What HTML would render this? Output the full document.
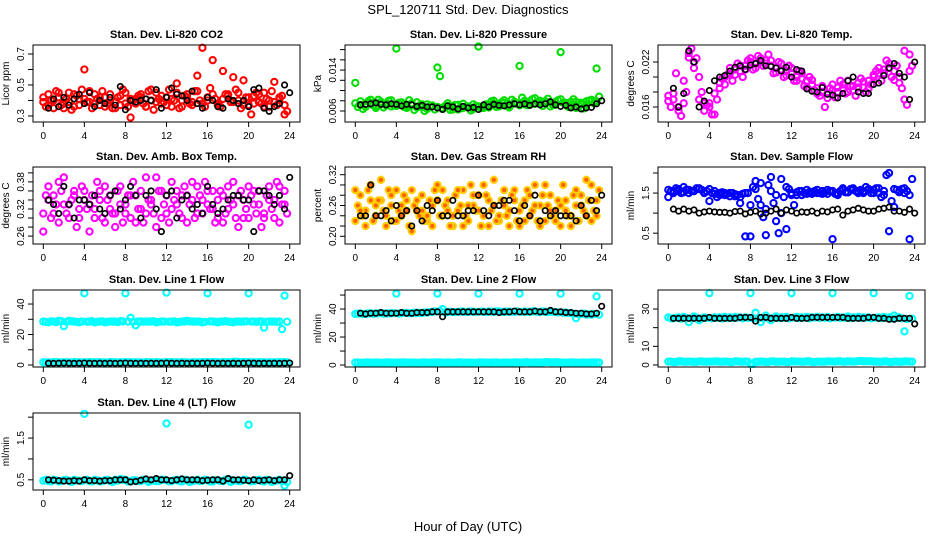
<!DOCTYPE html>
<html><head><meta charset="utf-8"><style>
html,body{margin:0;padding:0;background:#fff;}
svg{display:block;font-family:"Liberation Sans",Arial,sans-serif;}
</style></head><body>
<svg id="chart" width="936" height="540" viewBox="0 0 936 540">
<text x="468" y="14" text-anchor="middle" font-size="13">SPL_120711  Std. Dev. Diagnostics</text>
<text x="468" y="531" text-anchor="middle" font-size="13">Hour of Day (UTC)</text>
</svg>
<script>
const HA=[0,0.5,1,1.5,2,2.5,3,3.5,4,4.5,5,5.5,6,6.5,7,7.5,8,8.5,9,9.5,10,10.5,11,11.5,12,12.5,13,13.5,14,14.5,15,15.5,16,16.5,17,17.5,18,18.5,19,19.5,20,20.5,21,21.5,22,22.5,23,23.5];
const HB=[0.25,0.75,1.25,1.75,2.25,2.75,3.25,3.75,4.25,4.75,5.25,5.75,6.25,6.75,7.25,7.75,8.25,8.75,9.25,9.75,10.25,10.75,11.25,11.75,12.25,12.75,13.25,13.75,14.25,14.75,15.25,15.75,16.25,16.75,17.25,17.75,18.25,18.75,19.25,19.75,20.25,20.75,21.25,21.75,22.25,22.75,23.25,23.75];
const HK=[0.5,1,1.5,2,2.5,3,3.5,4,4.5,5,5.5,6,6.5,7,7.5,8,8.5,9,9.5,10,10.5,11,11.5,12,12.5,13,13.5,14,14.5,15,15.5,16,16.5,17,17.5,18,18.5,19,19.5,20,20.5,21,21.5,22,22.5,23,23.5,24];
const X_TICKS=[0,4,8,12,16,20,24];

const co2A=[0.39,0.44,0.35,0.42,0.38,0.45,0.36,0.41,0.60,0.39,0.44,0.37,0.42,0.40,0.35,0.43,0.38,0.29,0.41,0.44,0.36,0.40,0.45,0.38,0.42,0.36,0.51,0.40,0.44,0.37,0.56,0.74,0.42,0.66,0.38,0.59,0.44,0.55,0.40,0.53,0.37,0.43,0.39,0.45,0.36,0.52,0.41,0.31];
const co2B=[0.36,0.40,0.46,0.37,0.41,0.34,0.43,0.47,0.39,0.35,0.41,0.46,0.38,0.35,0.42,0.47,0.36,0.40,0.43,0.38,0.46,0.34,0.41,0.39,0.47,0.40,0.35,0.43,0.38,0.46,0.40,0.36,0.48,0.41,0.36,0.44,0.39,0.47,0.35,0.42,0.31,0.45,0.38,0.41,0.46,0.37,0.43,0.33];
const co2C=[0.42,0.37,0.40,0.45,0.35,0.39,0.44,0.37,0.41,0.46,0.38,0.42,0.36,0.44,0.39,0.37,0.45,0.41,0.38,0.42,0.36,0.47,0.39,0.43,0.37,0.41,0.45,0.36,0.42,0.39,0.46,0.38,0.40,0.44,0.37,0.41,0.43,0.39,0.45,0.37,0.42,0.38,0.44,0.36,0.40,0.39,0.42,0.37];
const co2K=[0.35,0.41,0.36,0.42,0.37,0.41,0.44,0.38,0.45,0.36,0.40,0.38,0.42,0.37,0.49,0.34,0.40,0.39,0.40,0.41,0.40,0.47,0.35,0.42,0.48,0.44,0.43,0.40,0.46,0.38,0.35,0.42,0.40,0.36,0.35,0.41,0.40,0.38,0.40,0.36,0.47,0.48,0.35,0.33,0.36,0.38,0.50,0.45];

const prA=[0.0115,0.0072,0.0068,0.0076,0.0070,0.0078,0.0074,0.0069,0.0182,0.0077,0.0070,0.0075,0.0067,0.0073,0.0064,0.0071,0.0145,0.0066,0.0070,0.0063,0.0072,0.0066,0.0069,0.0064,0.0186,0.0070,0.0067,0.0074,0.0069,0.0076,0.0071,0.0078,0.0148,0.0073,0.0079,0.0074,0.0080,0.0075,0.0077,0.0072,0.0175,0.0076,0.0070,0.0078,0.0073,0.0079,0.0082,0.0143];
const prB=[0.0068,0.0064,0.0079,0.0071,0.0082,0.0067,0.0080,0.0072,0.0076,0.0068,0.0081,0.0062,0.0071,0.0060,0.0069,0.0063,0.0128,0.0070,0.0062,0.0072,0.0065,0.0068,0.0061,0.0070,0.0066,0.0073,0.0079,0.0068,0.0077,0.0070,0.0082,0.0074,0.0086,0.0071,0.0083,0.0078,0.0070,0.0084,0.0072,0.0081,0.0076,0.0068,0.0083,0.0071,0.0065,0.0080,0.0075,0.0088];
const prC=[0.0075,0.0079,0.0073,0.0082,0.0066,0.0074,0.0071,0.0081,0.0070,0.0074,0.0066,0.0072,0.0077,0.0068,0.0073,0.0070,0.0068,0.0064,0.0075,0.0068,0.0063,0.0074,0.0067,0.0073,0.0069,0.0066,0.0072,0.0080,0.0073,0.0081,0.0067,0.0075,0.0071,0.0080,0.0072,0.0085,0.0076,0.0079,0.0069,0.0078,0.0083,0.0074,0.0078,0.0066,0.0076,0.0072,0.0080,0.0079];
const prK=[0.0072,0.0073,0.0074,0.0076,0.0073,0.0072,0.0074,0.0073,0.0070,0.0073,0.0072,0.0069,0.0071,0.0068,0.0068,0.0066,0.0063,0.0070,0.0068,0.0064,0.0069,0.0066,0.0067,0.0063,0.0072,0.0068,0.0073,0.0071,0.0070,0.0072,0.0074,0.0072,0.0074,0.0071,0.0074,0.0072,0.0074,0.0078,0.0072,0.0069,0.0071,0.0066,0.0068,0.0064,0.0066,0.0067,0.0074,0.0080];

const ltA=[0.0175,0.0170,0.0155,0.0165,0.0232,0.0220,0.0200,0.0165,0.0160,0.0150,0.0185,0.0190,0.0205,0.0210,0.0208,0.0215,0.0220,0.0218,0.0225,0.0222,0.0215,0.0212,0.0210,0.0208,0.0205,0.0200,0.0198,0.0195,0.0190,0.0185,0.0180,0.0178,0.0182,0.0186,0.0190,0.0180,0.0188,0.0192,0.0186,0.0195,0.0200,0.0205,0.0210,0.0212,0.0208,0.0200,0.0170,0.0230];
const ltB=[0.0160,0.0205,0.0148,0.0180,0.0238,0.0225,0.0180,0.0162,0.0150,0.0170,0.0198,0.0203,0.0195,0.0218,0.0200,0.0222,0.0210,0.0228,0.0215,0.0230,0.0205,0.0220,0.0200,0.0215,0.0195,0.0208,0.0188,0.0200,0.0182,0.0175,0.0160,0.0185,0.0173,0.0195,0.0178,0.0188,0.0175,0.0198,0.0180,0.0190,0.0208,0.0195,0.0222,0.0200,0.0215,0.0185,0.0163,0.0215];
const ltC=[0.0168,0.0178,0.0160,0.0195,0.0226,0.0212,0.0170,0.0155,0.0165,0.0178,0.0192,0.0200,0.0212,0.0203,0.0215,0.0210,0.0225,0.0212,0.0220,0.0218,0.0222,0.0206,0.0218,0.0202,0.0212,0.0195,0.0205,0.0186,0.0196,0.0178,0.0188,0.0172,0.0190,0.0180,0.0185,0.0195,0.0182,0.0186,0.0194,0.0185,0.0203,0.0212,0.0205,0.0218,0.0196,0.0192,0.0235,0.0208];
const ltK=[0.0185,0.0160,0.0178,0.0235,0.0220,0.0160,0.0168,0.0182,0.0195,0.0200,0.0202,0.0208,0.0213,0.0215,0.0210,0.0216,0.0218,0.0222,0.0215,0.0214,0.0212,0.0208,0.0213,0.0200,0.0210,0.0208,0.0184,0.0181,0.0180,0.0186,0.0177,0.0176,0.0172,0.0178,0.0195,0.0200,0.0180,0.0178,0.0178,0.0190,0.0192,0.0202,0.0212,0.0218,0.0205,0.0200,0.0170,0.0220];

const abA=[0.31,0.37,0.35,0.29,0.39,0.33,0.36,0.30,0.34,0.27,0.32,0.36,0.29,0.35,0.31,0.37,0.33,0.30,0.35,0.32,0.39,0.34,0.28,0.36,0.31,0.38,0.33,0.35,0.29,0.34,0.37,0.31,0.33,0.36,0.30,0.35,0.32,0.38,0.28,0.34,0.30,0.36,0.33,0.31,0.37,0.34,0.29,0.36];
const abB=[0.35,0.30,0.33,0.36,0.31,0.34,0.28,0.37,0.32,0.35,0.38,0.30,0.34,0.31,0.36,0.29,0.35,0.38,0.32,0.29,0.34,0.31,0.36,0.33,0.29,0.34,0.31,0.37,0.33,0.30,0.35,0.38,0.32,0.29,0.36,0.31,0.34,0.30,0.36,0.32,0.35,0.31,0.28,0.35,0.32,0.38,0.33,0.31];
const abC=[0.27,0.34,0.31,0.38,0.33,0.30,0.35,0.32,0.36,0.33,0.30,0.34,0.37,0.32,0.28,0.33,0.31,0.35,0.29,0.36,0.31,0.33,0.39,0.30,0.35,0.32,0.36,0.30,0.35,0.38,0.31,0.34,0.36,0.32,0.34,0.29,0.37,0.33,0.35,0.30,0.37,0.33,0.36,0.30,0.34,0.30,0.37,0.33];
const abK=[0.34,0.33,0.31,0.37,0.33,0.30,0.34,0.34,0.33,0.35,0.32,0.31,0.35,0.36,0.32,0.34,0.37,0.35,0.30,0.35,0.36,0.32,0.27,0.35,0.36,0.30,0.34,0.35,0.32,0.33,0.31,0.37,0.33,0.31,0.32,0.34,0.35,0.35,0.34,0.34,0.27,0.36,0.36,0.35,0.33,0.35,0.32,0.39];

const rhA=[0.23,0.28,0.25,0.30,0.24,0.27,0.22,0.26,0.29,0.24,0.27,0.21,0.25,0.28,0.23,0.26,0.30,0.24,0.27,0.22,0.25,0.29,0.23,0.26,0.28,0.24,0.27,0.31,0.23,0.26,0.25,0.29,0.22,0.27,0.24,0.30,0.26,0.23,0.28,0.25,0.22,0.27,0.24,0.29,0.26,0.31,0.23,0.27];
const rhB=[0.26,0.24,0.29,0.23,0.27,0.25,0.29,0.23,0.25,0.28,0.22,0.26,0.24,0.23,0.27,0.29,0.24,0.26,0.22,0.28,0.26,0.24,0.30,0.25,0.22,0.28,0.25,0.23,0.27,0.24,0.28,0.23,0.26,0.29,0.25,0.23,0.28,0.26,0.24,0.27,0.30,0.24,0.28,0.23,0.25,0.27,0.25,0.29];
const rhC=[0.29,0.25,0.22,0.27,0.26,0.31,0.24,0.28,0.23,0.26,0.25,0.29,0.27,0.25,0.24,0.22,0.27,0.29,0.25,0.24,0.29,0.22,0.26,0.28,0.25,0.30,0.22,0.26,0.24,0.29,0.22,0.27,0.25,0.23,0.28,0.26,0.22,0.30,0.25,0.23,0.26,0.25,0.22,0.26,0.28,0.24,0.30,0.24];
const rhK=[0.24,0.24,0.30,0.24,0.24,0.25,0.23,0.26,0.24,0.25,0.22,0.25,0.23,0.26,0.25,0.27,0.24,0.24,0.27,0.24,0.24,0.25,0.25,0.28,0.25,0.24,0.26,0.26,0.27,0.27,0.25,0.23,0.26,0.24,0.28,0.23,0.25,0.24,0.25,0.24,0.24,0.24,0.23,0.26,0.24,0.27,0.25,0.28];

const sfA=[1.40,1.55,1.60,1.52,1.58,1.55,1.62,1.50,1.30,1.48,1.45,1.50,1.42,1.47,1.40,0.42,0.42,1.80,1.20,0.45,1.90,0.80,1.85,0.60,1.50,1.45,1.55,1.48,1.52,1.50,1.55,1.48,0.35,1.45,1.58,1.52,1.62,1.55,1.50,1.60,1.58,1.50,1.45,0.55,1.60,1.55,1.50,0.35];
const sfB=[1.55,1.62,1.50,1.58,1.55,1.62,1.58,1.55,1.50,1.40,1.52,1.48,1.50,1.45,1.48,1.50,1.65,1.35,0.90,1.70,1.25,0.50,1.40,1.60,1.20,1.55,1.50,1.53,1.55,1.50,1.52,1.55,1.48,1.55,1.52,1.60,1.55,1.58,1.65,1.50,1.62,1.40,1.95,1.30,1.58,1.60,1.55,1.85];
const sfC=[1.58,1.50,1.55,1.65,1.50,1.55,1.60,1.52,1.60,1.55,1.50,1.45,1.50,1.42,1.25,1.50,1.20,1.60,1.75,1.10,1.55,1.45,1.00,1.65,1.45,1.52,1.45,1.58,1.48,1.58,1.48,1.58,1.55,1.50,1.62,1.52,1.58,1.50,1.55,1.58,1.50,1.62,1.55,2.00,1.15,1.52,1.62,1.45];
const sfK=[1.10,1.05,1.10,1.05,1.08,1.00,1.03,1.05,1.03,1.02,1.02,1.00,1.04,1.05,0.98,1.02,1.05,0.98,1.00,1.05,1.10,1.00,1.08,1.05,1.00,1.03,1.02,1.05,1.00,1.05,1.03,1.08,1.10,0.95,1.05,1.08,1.12,1.08,1.05,1.05,1.10,1.12,1.15,1.05,1.05,1.02,1.10,1.00];

const l1Hi=[28.5,28,28.5,29,25.5,29,28.5,28,47,28.5,28,28.5,28,28.5,28.5,28.8,47,31,26,28.5,28.5,28.5,28,28.5,47.5,28.5,28,28.5,29,28.5,28.5,28,47,28.5,28,28.5,28.5,28,28.5,28.5,47,28.5,28.5,24.5,28.5,28.5,28.5,45.5];
const l1Hi2=[28.3,28.6,28.2,28.7,28.4,28.6,28.3,28.5,28.4,28.7,28.3,28.6,28.4,28.5,28.2,28.6,28.5,28.3,28.6,28.4,28.5,28.7,28.3,28.5,28.4,28.6,28.3,28.5,28.6,28.4,28.5,28.3,28.6,28.4,28.5,28.7,28.3,28.5,28.4,28.6,28.5,28.3,28.6,28.4,28.5,28.3,23.5,28.4];
const l1Lo=[1.8,1.6,1.9,1.7,1.8,1.6,1.9,1.7,1.8,1.9,1.7,1.8,1.6,1.9,1.7,1.8,1.9,1.7,1.8,1.6,1.9,1.7,1.8,1.6,1.9,1.8,1.7,1.9,1.6,1.8,1.7,1.9,1.8,2.0,1.7,1.9,1.8,2.1,1.9,2.0,1.8,1.7,1.9,1.6,1.8,1.7,1.9,1.8];
const l1K=[1.2,1.1,1.2,1.3,1.2,1.1,1.2,1.3,1.2,1.1,1.2,1.1,1.2,1.1,1.2,1.3,1.2,1.1,1.2,1.1,1.2,1.1,1.2,1.3,1.2,1.1,1.2,1.1,1.2,1.1,1.2,1.3,1.2,1.1,1.2,1.1,1.2,1.1,1.2,1.3,1.2,1.1,1.2,1.1,1.2,1.1,1.2,1.3];

const l2Hi=[36.5,36.8,36.5,37,36.8,37,36.8,37,51,37,37.2,37,37.3,37.1,37.5,38,51,40,38,37.8,38,38.2,38,38.1,51,38,38.2,38,38.3,38,38.1,38,51,38.2,38,38.4,38,38.1,38,37.9,51,37.5,37,33.5,36.5,36,36,49];
const l2Hi2=[36.7,36.4,36.9,36.6,37,36.7,36.9,37.1,36.8,37.2,37,37.4,37.2,37.6,37.8,38.3,38.5,37.5,38.1,37.9,38.2,37.9,38.3,38,38.2,37.9,38.1,38.3,37.9,38.2,38,38.3,37.9,38.1,38.3,38,38.2,37.8,38,37.6,37.4,37.1,36.6,36.3,36.8,36.2,36.5,36];
const l2Lo=[1.8,1.6,1.9,1.7,1.8,1.6,1.9,1.7,1.8,1.9,1.7,1.8,1.6,1.9,1.7,1.8,1.9,1.7,1.8,1.6,1.9,1.7,1.8,1.6,1.9,1.8,1.7,1.9,1.6,1.8,1.7,1.9,1.8,2.0,1.7,1.9,1.8,2.1,1.9,2.0,1.8,1.7,1.9,1.6,1.8,1.7,1.9,1.8];
const l2K=[37,36.5,37,37,37.5,37,37,37,37.5,37,37,37.5,37.5,37.5,38,38,34.5,38,38,38,38,38,38,38,38,38,38,37.5,38,38,38.5,38,38,38,38.5,38,38,39,38,38,37.5,37.5,37,37,36.5,36.5,37,42];

const l3Hi=[25.5,25,25.5,25.8,23,26,24,25.5,38.5,25.5,25.5,25.8,25.5,25.8,25.5,25.5,38.5,28,23,26.5,24,26,25.5,25.8,38.5,25.8,25.5,25.8,25.5,25.8,25.5,25.8,38.5,25.8,25.5,26,25.5,25.8,25.5,25.5,38.5,25.5,25.8,25.5,26.5,25.5,18,37];
const l3Hi2=[25,25.3,24.8,25.2,25,25.3,24.9,25.2,25,25.3,24.9,25.2,25.1,25.4,25,25.3,25.1,24.8,25.2,25,25.4,25.1,25.3,25,25.4,25.1,25.3,25,25.4,25.2,25.3,25,25.4,25.2,25.3,25.1,25.4,25.2,25.3,25,25.3,25.1,25.2,24.9,25.2,25,24.6,24.8];
const l3Lo=[1.8,1.6,1.9,1.7,1.8,1.6,1.9,1.7,1.8,1.9,1.7,1.8,1.6,1.9,1.7,1.8,0.5,1.7,1.8,1.6,1.9,1.7,1.8,1.6,1.9,1.8,1.7,1.9,1.6,1.8,1.7,1.9,1.8,2.0,1.7,1.9,1.8,2.1,1.9,2.0,1.8,1.7,1.9,1.6,1.8,1.7,1.9,1.8];
const l3K=[25,25,25,25,25,25,25,25.5,25,25,25,25,25,25.5,25.5,25.5,23.5,25.5,25.5,25,25,25,25,25.5,25,25,25,25.5,25.5,25.5,25.5,25.5,25.5,25.5,25,25,25,25,25.5,25.5,25,25,24.5,24.5,25,25,25,22];

const l4Hi=[0.48,0.47,0.5,0.46,0.49,0.47,0.5,0.48,2.08,0.47,0.5,0.46,0.49,0.47,0.5,0.52,0.5,0.46,0.49,0.47,0.5,0.48,0.47,0.5,1.85,0.47,0.5,0.46,0.49,0.47,0.5,0.48,0.49,0.46,0.49,0.47,0.52,0.48,0.47,0.5,1.82,0.47,0.5,0.46,0.49,0.47,0.5,0.36];
const l4Hi2=[0.5,0.46,0.49,0.47,0.5,0.45,0.48,0.47,0.5,0.46,0.49,0.47,0.5,0.45,0.48,0.5,0.46,0.49,0.47,0.5,0.45,0.48,0.47,0.5,0.46,0.49,0.47,0.5,0.45,0.48,0.47,0.5,0.46,0.49,0.47,0.5,0.45,0.48,0.47,0.5,0.46,0.49,0.47,0.5,0.45,0.48,0.47,0.45];
const l4K=[0.5,0.49,0.48,0.47,0.47,0.48,0.47,0.5,0.48,0.48,0.47,0.48,0.48,0.5,0.5,0.5,0.45,0.46,0.49,0.52,0.5,0.53,0.5,0.5,0.48,0.5,0.52,0.5,0.5,0.5,0.48,0.49,0.5,0.5,0.47,0.53,0.5,0.5,0.49,0.48,0.5,0.48,0.49,0.5,0.48,0.5,0.5,0.6];

const svg=document.getElementById('chart');
const NS='http://www.w3.org/2000/svg';
function mk(tag,attrs,parent){const e=document.createElementNS(NS,tag);for(const k in attrs)e.setAttribute(k,attrs[k]);(parent||svg).appendChild(e);return e;}

function panel(p){
  const g=mk('g',{});
  
  
  const W=267,H=77,L=p.left,T=p.top;
  const xs=h=>L+10.3+(h/24)*(W-20.6);
  const ys=v=>T+H-(v-p.ymin)/(p.ymax-p.ymin)*H;
  const t=mk('text',{x:L+W/2,y:T-7,'text-anchor':'middle','font-size':'11','font-weight':'bold'},g);
  t.textContent=p.title;
  
  
  const yl=mk('text',{x:0,y:0,'text-anchor':'middle','font-size':'10',transform:`translate(${L-24},${T+H/2}) rotate(-90)`},g);
  yl.textContent=p.ylab;
  
  
  mk('line',{x1:xs(0),x2:xs(24),y1:T+H,y2:T+H,stroke:'#000'},g);
  X_TICKS.forEach(h=>{
    mk('line',{x1:xs(h),x2:xs(h),y1:T+H,y2:T+H+5,stroke:'#000'},g);
    const tx=mk('text',{x:xs(h),y:T+H+17,'text-anchor':'middle','font-size':'10'},g);
    tx.textContent=h;
    
    
  });
  p.yticks.forEach(v=>{
    mk('line',{x1:L,x2:L-5,y1:ys(v),y2:ys(v),stroke:'#000'},g);
  });
  mk('line',{x1:L,x2:L,y1:ys(p.yticks[0]),y2:ys(p.yticks[p.yticks.length-1]),stroke:'#000'},g);
  p.ylabels.forEach(v=>{
    const ty=mk('text',{x:0,y:0,'text-anchor':'middle','font-size':'10',transform:`translate(${L-9},${ys(v)}) rotate(-90)`},g);
    ty.textContent=String(v);
    
    
  });
  const clip='c'+p.name;
  const cp=mk('clipPath',{id:clip},g);mk('rect',{x:L,y:T-3,width:W,height:H+6},cp);
  const pg=mk('g',{'clip-path':`url(#${clip})`},g);
  p.series.forEach(s=>{
    const sg=mk('g',{},pg);
    
    
    const black=s.color==='#000';
    s.y.forEach((v,i)=>{
      const c=mk('circle',{cx:xs(s.x[i]),cy:ys(v),r:black?2.7:3.1,fill:s.fill||'none',stroke:s.color,'stroke-width':black?1.7:2.1},sg);
      
      
    });
  });
  mk('rect',{x:L,y:T,width:W,height:H,fill:'none',stroke:'#000'},g);
}
const C1=33,C2=345,C3=658,R1=45,R2=167,R3=290,R4=413;
panel({name:'panel-co2',left:C1,top:R1,ymin:0.261,ymax:0.758,title:'Stan. Dev. Li-820 CO2',ylab:'Licor ppm',yticks:[0.3,0.4,0.5,0.6,0.7],ylabels:[0.3,0.5,0.7],
 series:[{name:'co2-a',x:HA,y:co2A,color:'#ff0000'},{name:'co2-b',x:HB,y:co2B,color:'#ff0000'},{name:'co2-c',x:HA,y:co2C,color:'#ff0000'},{name:'co2-hourly',x:HK,y:co2K,color:'#000'}]});
panel({name:'panel-pressure',left:C2,top:R1,ymin:0.00385,ymax:0.0189,title:'Stan. Dev. Li-820 Pressure',ylab:'kPa',yticks:[0.006,0.008,0.010,0.012,0.014,0.016,0.018],ylabels:[0.006,0.014],
 series:[{name:'pressure-a',x:HA,y:prA,color:'#00dd00'},{name:'pressure-b',x:HB,y:prB,color:'#00dd00'},{name:'pressure-c',x:HA,y:prC,color:'#00dd00'},{name:'pressure-hourly',x:HK,y:prK,color:'#000'}]});
panel({name:'panel-li820-temp',left:C3,top:R1,ymin:0.014,ymax:0.02427,title:'Stan. Dev. Li-820 Temp.',ylab:'degrees C',yticks:[0.016,0.018,0.020,0.022],ylabels:[0.016,0.022],
 series:[{name:'temp-a',x:HA,y:ltA,color:'#ff00ff'},{name:'temp-b',x:HB,y:ltB,color:'#ff00ff'},{name:'temp-c',x:HA,y:ltC,color:'#ff00ff'},{name:'temp-hourly',x:HK,y:ltK,color:'#000'}]});
panel({name:'panel-amb-box-temp',left:C1,top:R2,ymin:0.2425,ymax:0.413,title:'Stan. Dev. Amb. Box Temp.',ylab:'degrees C',yticks:[0.26,0.28,0.30,0.32,0.34,0.36,0.38,0.40],ylabels:[0.26,0.32,0.38],
 series:[{name:'amb-a',x:HA,y:abA,color:'#ff00ff'},{name:'amb-b',x:HB,y:abB,color:'#ff00ff'},{name:'amb-c',x:HA,y:abC,color:'#ff00ff'},{name:'amb-hourly',x:HK,y:abK,color:'#000'}]});
panel({name:'panel-gas-rh',left:C2,top:R2,ymin:0.185,ymax:0.335,title:'Stan. Dev. Gas Stream RH',ylab:'percent',yticks:[0.20,0.22,0.24,0.26,0.28,0.30,0.32],ylabels:['0.20',0.26,0.32],
 series:[{name:'rh-a',x:HA,y:rhA,color:'#ffcc00',fill:'#ff6000'},{name:'rh-b',x:HB,y:rhB,color:'#ffcc00',fill:'#ff6000'},{name:'rh-c',x:HA,y:rhC,color:'#ffcc00',fill:'#ff6000'},{name:'rh-hourly',x:HK,y:rhK,color:'#000'}]});
panel({name:'panel-sample-flow',left:C3,top:R2,ymin:0.23,ymax:2.15,title:'Stan. Dev. Sample Flow',ylab:'ml/min',yticks:[0.5,1.0,1.5,2.0],ylabels:[0.5,1.5],
 series:[{name:'flow-a',x:HA,y:sfA,color:'#0000ff'},{name:'flow-b',x:HB,y:sfB,color:'#0000ff'},{name:'flow-c',x:HA,y:sfC,color:'#0000ff'},{name:'flow-hourly',x:HK,y:sfK,color:'#000'}]});
panel({name:'panel-line1',left:C1,top:R3,ymin:-1.3,ymax:49.2,title:'Stan. Dev. Line 1 Flow',ylab:'ml/min',yticks:[0,10,20,30,40],ylabels:[0,20,40],
 series:[{name:'line1-hi-a',x:HA,y:l1Hi,color:'#00ffff'},{name:'line1-hi-b',x:HB,y:l1Hi2,color:'#00ffff'},{name:'line1-lo-a',x:HA,y:l1Lo,color:'#00ffff'},{name:'line1-lo-b',x:HB,y:l1Lo,color:'#00ffff'},{name:'line1-hourly',x:HK,y:l1K,color:'#000'}]});
panel({name:'panel-line2',left:C2,top:R3,ymin:-1.4,ymax:53.6,title:'Stan. Dev. Line 2 Flow',ylab:'ml/min',yticks:[0,10,20,30,40,50],ylabels:[0,20,40],
 series:[{name:'line2-hi-a',x:HA,y:l2Hi,color:'#00ffff'},{name:'line2-hi-b',x:HB,y:l2Hi2,color:'#00ffff'},{name:'line2-lo-a',x:HA,y:l2Lo,color:'#00ffff'},{name:'line2-lo-b',x:HB,y:l2Lo,color:'#00ffff'},{name:'line2-hourly',x:HK,y:l2K,color:'#000'}]});
panel({name:'panel-line3',left:C3,top:R3,ymin:-1.1,ymax:40.2,title:'Stan. Dev. Line 3 Flow',ylab:'ml/min',yticks:[0,10,20,30],ylabels:[0,10,30],
 series:[{name:'line3-hi-a',x:HA,y:l3Hi,color:'#00ffff'},{name:'line3-hi-b',x:HB,y:l3Hi2,color:'#00ffff'},{name:'line3-lo-a',x:HA,y:l3Lo,color:'#00ffff'},{name:'line3-lo-b',x:HB,y:l3Lo,color:'#00ffff'},{name:'line3-hourly',x:HK,y:l3K,color:'#000'}]});
panel({name:'panel-line4',left:C1,top:R4,ymin:0.256,ymax:2.1,title:'Stan. Dev. Line 4 (LT) Flow',ylab:'ml/min',yticks:[0.5,1.0,1.5,2.0],ylabels:[0.5,1.5],
 series:[{name:'line4-a',x:HA,y:l4Hi,color:'#00ffff'},{name:'line4-b',x:HB,y:l4Hi2,color:'#00ffff'},{name:'line4-hourly',x:HK,y:l4K,color:'#000'}]});
</script>
</body></html>
